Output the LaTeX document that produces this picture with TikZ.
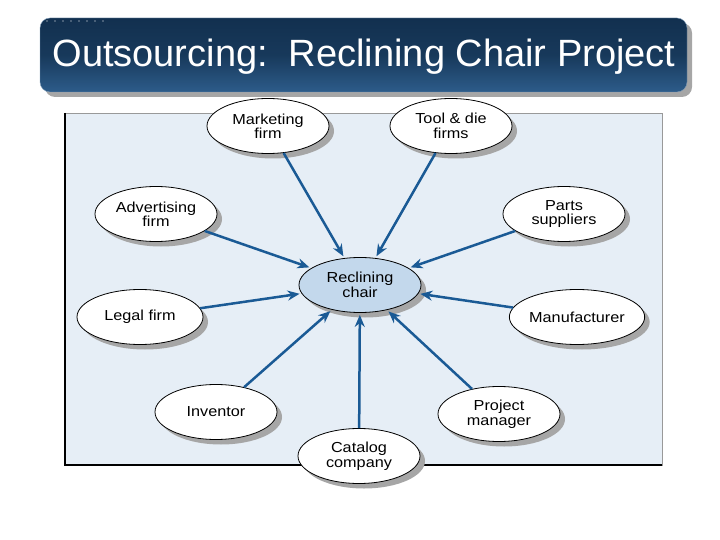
\documentclass[tikz,border=0pt]{standalone}
\usepackage{fontspec}
\setmainfont{Liberation Sans}
\newfontfamily\lblfont[FakeStretch=1.12]{Liberation Sans}
\usepackage{tikz}
\usepackage{xcolor}
\usetikzlibrary{shapes.geometric,shadows,arrows.meta}

\definecolor{navy}{HTML}{12304F}
\definecolor{navylight}{HTML}{2D5C8A}
\definecolor{panelblue}{HTML}{E6EEF6}
\definecolor{chairblue}{HTML}{C3D8EC}
\definecolor{arrowblue}{HTML}{1A5A95}

\begin{document}
\begin{tikzpicture}[x=1pt, y=-1pt,
  firm/.style={ellipse, draw, thick, fill=white, minimum width=122pt, minimum height=55pt,
    inner sep=0pt, align=center, font=\lblfont\fontsize{14.5}{14.5}\selectfont,
    drop shadow={shadow xshift=5pt, shadow yshift=-5pt, fill=black!35, opacity=1}},
  link/.style={draw=arrowblue, line width=2.5pt, -{Stealth[length=12pt,width=10pt]}, shorten >=2pt}]
\useasboundingbox (0,0) rectangle (720,540);

% title bar
\fill[black!35, rounded corners=10pt] (45,23) rectangle (692,97);
\shade[top color=navy, bottom color=navylight, middle color=navy!80!navylight, rounded corners=10pt, draw=navylight!60!white] (40,18) rectangle (687,92);
\foreach \i in {0,...,7} \fill[white] (47+\i*8,21) circle (0.6);
\node[text=white, font=\fontsize{38}{40}\selectfont] (title) at (364,57) {Outsourcing:\ \ Reclining Chair Project};

% panel
\filldraw[fill=panelblue, draw=black!40] (65,113) rectangle (662,465);
\draw[line width=1.5pt] (65,113) -- (65,465) -- (662,465);

\node[firm, fill=chairblue] (chair) at (360,285) {Reclining\\chair};
\node[firm] (marketing) at (268,126) {Marketing\\firm};
\node[firm] (tool) at (451,126) {Tool \& die\\firms};
\node[firm] (advert) at (156,214) {Advertising\\firm};
\node[firm] (parts) at (564,214) {Parts\\suppliers};
\node[firm, minimum width=126pt] (legal) at (140,317) {Legal firm};
\node[firm] (manuf) at (577,317) {Manufacturer};
\node[firm] (inventor) at (216,412) {Inventor};
\node[firm] (catalog) at (359,456) {Catalog\\company};
\node[firm] (pm) at (499,414) {Project\\manager};

\draw[link] (marketing) -- (chair);
\draw[link] (tool) -- (chair);
\draw[link] (advert) -- (chair);
\draw[link] (parts) -- (chair);
\draw[link] (legal) -- (chair);
\draw[link] (manuf) -- (chair);
\draw[link] (inventor) -- (chair);
\draw[link] (catalog) -- (chair);
\draw[link] (pm) -- (chair);
\end{tikzpicture}
\end{document}
